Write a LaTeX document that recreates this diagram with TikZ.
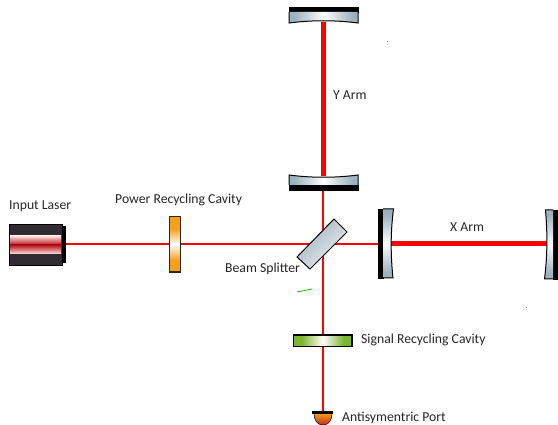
\documentclass[tikz,border=0pt]{standalone}
\usepackage{fontspec}
\setmainfont{Carlito}
\definecolor{steel}{HTML}{9DB2C0}
\definecolor{leaf}{HTML}{7DB52F}
\definecolor{amber}{HTML}{F9A01B}
\definecolor{body}{HTML}{2F2B31}
\definecolor{deepred}{HTML}{B5121B}
\definecolor{rust}{HTML}{C0301A}
\pgfdeclarehorizontalshading{mwsteel}{100bp}{color(0bp)=(steel); color(29bp)=(steel); color(50bp)=(white); color(71bp)=(steel); color(100bp)=(steel)}
\pgfdeclarehorizontalshading{mwamber}{100bp}{color(0bp)=(amber); color(36bp)=(amber); color(50bp)=(white); color(64bp)=(amber); color(100bp)=(amber)}
\pgfdeclarehorizontalshading{mwleaf}{100bp}{color(0bp)=(leaf); color(32bp)=(leaf); color(50bp)=(white); color(68bp)=(leaf); color(100bp)=(leaf)}
\begin{document}
\begin{tikzpicture}[x=1pt,y=-1pt,
  lbl/.style={inner sep=0pt,anchor=base west,font=\fontsize{13.7}{15}\selectfont,text=black!85},
  thickbeam/.style={draw=red,line width=5pt},
  midbeam/.style={draw=red,line width=2.6pt},
  thinbeam/.style={draw=red,line width=1.8pt},
  glass/.style={draw=black,line width=1pt},
  blackpart/.style={fill=black,draw=black,line width=.6pt},
  glassh/.style={shading=mwsteel,shading angle=0},
  glassv/.style={shading=mwsteel,shading angle=90}]
\useasboundingbox (0,0) rectangle (558,425);
% coordinates for beams
\coordinate (yend) at (323.5,22);
\coordinate (yin) at (323.5,176);
\coordinate (xin) at (391,244);
\coordinate (xend) at (547,244);
\coordinate (bsy) at (323,190);
\coordinate (bsx) at (181,244);
\coordinate (xinl) at (378,244);
\coordinate (lout) at (65,244);
\coordinate (prl) at (169,244);
\coordinate (srt) at (323,335);
\coordinate (srb) at (323,347);
\coordinate (port) at (323,411);
% beams
\draw[thickbeam] (yend) -- (yin);
\draw[thickbeam] (xin) -- (xend);
\draw[midbeam] (bsy) -- (srt);
\draw[midbeam] (bsx) -- (xinl);
\draw[thinbeam] (lout) -- (prl);
\draw[thinbeam] (srb) -- (port);
% laser
\fill[body] (9,224) rectangle (62,265);
\draw[black,line width=.8pt] (9,224) rectangle (62,265);
\shade[top color=red!12!white,bottom color=deepred] (10,236) rectangle (61,245);
\shade[top color=deepred,bottom color=red!12!white] (10,245) rectangle (61,254);
\fill[black] (62,226) rectangle (65.5,263);
% power recycling
\shade[shading=mwamber,shading angle=90] (169.5,216.5) rectangle (180.5,272);
\draw[black!85,line width=1.2pt] (169.5,216.5) rectangle (180.5,272);
% Y end mirror
\fill[blackpart] (289,7) rectangle (358,12);
\shade[glassh] (289,12) -- (358,12) -- (358,23) .. controls (335,20) and (312,20) .. (289,23) -- cycle;
\draw[glass] (289,12) -- (289,23) .. controls (312,20) and (335,20) .. (358,23) -- (358,12);
% Y input mirror
\fill[blackpart] (289,185) rectangle (358,190);
\shade[glassh] (289,175) .. controls (312,178) and (335,178) .. (358,175) -- (358,185) -- (289,185) -- cycle;
\draw[glass] (289,185) -- (289,175) .. controls (312,178) and (335,178) .. (358,175) -- (358,185);
% X input mirror
\fill[blackpart] (378,209) rectangle (383,278);
\shade[glassv] (383,209) -- (393.5,209) .. controls (390.5,232) and (390.5,255) .. (393,278) -- (383,278) -- cycle;
\draw[glass] (383,209) -- (393.5,209) .. controls (390.5,232) and (390.5,255) .. (393,278) -- (383,278);
% X end mirror
\fill[blackpart] (553,210) rectangle (558,279);
\shade[glassv] (553,210) -- (545.5,210) .. controls (547.5,233) and (547.5,256) .. (544.5,279) -- (553,279) -- cycle;
\draw[glass] (553,210) -- (545.5,210) .. controls (547.5,233) and (547.5,256) .. (544.5,279) -- (553,279);
% beam splitter
\shade[left color=steel,right color=black!6,shading angle=45]
  (334,219) -- (347,232) -- (310,269) -- (297,257) -- cycle;
\draw[black,line width=1pt] (334,219) -- (347,232) -- (310,269) -- (297,257) -- cycle;
% signal recycling
\shade[shading=mwleaf,shading angle=0] (293.5,335) rectangle (352,346.5);
\draw[black,line width=1.2pt] (293.5,335) rectangle (352,346.5);
% port
\shade[top color=amber,bottom color=rust]
  (314,413) -- (332,413) .. controls (332,420) and (329,425) .. (323,425) .. controls (317,425) and (314,420) .. (314,413) -- cycle;
\draw[black,line width=.5pt] (314,413) .. controls (314,420) and (317,425) .. (323,425) .. controls (329,425) and (332,420) .. (332,413);
\fill[black] (312,411) rectangle (333,414);
% stray marks
\draw[green!75!black,line width=.7pt] (297,292) -- (312,289);
\fill[black!50] (387,41) rectangle (388,42);
\fill[black!50] (526,307.5) rectangle (527,308.5);
% labels
\node[lbl] (t1) at (9,210) {Input Laser};
\node[lbl] (t2) at (115,204) {Power Recycling Cavity};
\node[lbl] (t3) at (333,100) {Y Arm};
\node[lbl] (t4) at (450,232) {X Arm};
\node[lbl] (t5) at (225,273) {Beam Splitter};
\node[lbl] (t6) at (361,343.5) {Signal Recycling Cavity};
\node[lbl] (t7) at (342,421) {Antisymentric Port};
\end{tikzpicture}
\end{document}
